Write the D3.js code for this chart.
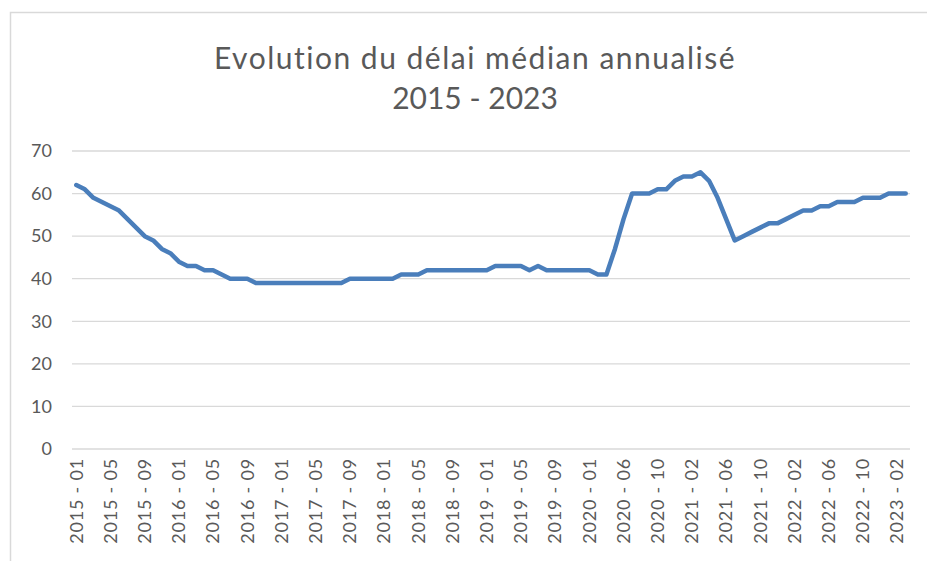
<!DOCTYPE html>
<html>
<head>
<meta charset="utf-8">
<script src="https://cdn.jsdelivr.net/npm/d3@7"></script>
<style>
  body { margin: 0; background: #fff; }
  svg { display: block; }
</style>
</head>
<body>
<div id="chart"></div>
<script>
// Categories (monthly, 2020-04 is missing in the source)
const months = [
  "2015 - 01","2015 - 02","2015 - 03","2015 - 04","2015 - 05","2015 - 06","2015 - 07","2015 - 08","2015 - 09","2015 - 10","2015 - 11","2015 - 12",
  "2016 - 01","2016 - 02","2016 - 03","2016 - 04","2016 - 05","2016 - 06","2016 - 07","2016 - 08","2016 - 09","2016 - 10","2016 - 11","2016 - 12",
  "2017 - 01","2017 - 02","2017 - 03","2017 - 04","2017 - 05","2017 - 06","2017 - 07","2017 - 08","2017 - 09","2017 - 10","2017 - 11","2017 - 12",
  "2018 - 01","2018 - 02","2018 - 03","2018 - 04","2018 - 05","2018 - 06","2018 - 07","2018 - 08","2018 - 09","2018 - 10","2018 - 11","2018 - 12",
  "2019 - 01","2019 - 02","2019 - 03","2019 - 04","2019 - 05","2019 - 06","2019 - 07","2019 - 08","2019 - 09","2019 - 10","2019 - 11","2019 - 12",
  "2020 - 01","2020 - 02","2020 - 03","2020 - 05","2020 - 06","2020 - 07","2020 - 08","2020 - 09","2020 - 10","2020 - 11","2020 - 12",
  "2021 - 01","2021 - 02","2021 - 03","2021 - 04","2021 - 05","2021 - 06","2021 - 07","2021 - 08","2021 - 09","2021 - 10","2021 - 11","2021 - 12",
  "2022 - 01","2022 - 02","2022 - 03","2022 - 04","2022 - 05","2022 - 06","2022 - 07","2022 - 08","2022 - 09","2022 - 10","2022 - 11","2022 - 12",
  "2023 - 01","2023 - 02","2023 - 03"
];

// Median delay (days)
const delays = [
  62, 61, 59, 58, 57, 56, 54, 52, 50, 49, 47, 46,
  44, 43, 43, 42, 42, 41, 40, 40, 40, 39, 39, 39,
  39, 39, 39, 39, 39, 39, 39, 39, 40, 40, 40, 40,
  40, 40, 41, 41, 41, 42, 42, 42, 42, 42, 42, 42,
  42, 43, 43, 43, 43, 42, 43, 42, 42, 42, 42, 42,
  42, 41, 41, 47, 54, 60, 60, 60, 61, 61, 63,
  64, 64, 65, 63, 59, 54, 49, 50, 51, 52, 53, 53,
  54, 55, 56, 56, 57, 57, 58, 58, 58, 59, 59, 59,
  60, 60, 60
];

const yTicks = [0, 10, 20, 30, 40, 50, 60, 70];
const titleLines = ["Evolution du délai médian annualisé", "2015 - 2023"];

const W = 927, H = 561;
const margin = { top: 151, right: 17, bottom: 112, left: 72 };
const width = W - margin.left - margin.right;
const height = H - margin.top - margin.bottom;
const font = "Lato, 'Open Sans', sans-serif";

const svg = d3.select("#chart")
  .append("svg")
  .attr("width", W)
  .attr("height", H);

// chart frame
svg.append("rect")
  .attr("x", 10.5)
  .attr("y", 12.5)
  .attr("width", 940)
  .attr("height", 600)
  .attr("fill", "none")
  .attr("stroke", "#d9d9d9")
  .attr("stroke-width", 1.5);

// title
svg.append("text")
  .attr("x", 475)
  .attr("y", 69)
  .attr("text-anchor", "middle")
  .style("font-family", font)
  .style("font-size", "30px")
  .attr("fill", "#595959")
  .selectAll("tspan")
  .data(titleLines)
  .join("tspan")
  .attr("x", 475)
  .attr("dy", (d, i) => i === 0 ? 0 : 40)
  .style("letter-spacing", (d, i) => i === 0 ? "1.5px" : "0px")
  .text(d => d);

const g = svg.append("g")
  .attr("transform", `translate(${margin.left},${margin.top})`);

const x = d3.scaleBand()
  .domain(months)
  .range([0, width]);

const y = d3.scaleLinear()
  .domain([0, 70])
  .range([height, 0]);

// gridlines
g.append("g")
  .selectAll("line")
  .data(yTicks)
  .join("line")
  .attr("x1", 0)
  .attr("x2", width)
  .attr("y1", d => y(d))
  .attr("y2", d => y(d))
  .attr("stroke", "#d9d9d9")
  .attr("stroke-width", 1.3);

// y axis labels
g.append("g")
  .call(d3.axisLeft(y).tickValues(yTicks).tickSize(0).tickPadding(20))
  .call(s => s.select(".domain").remove())
  .selectAll("text")
  .style("font-family", font)
  .style("font-size", "18px")
  .attr("fill", "#595959");

// x axis labels, every 4th category
g.append("g")
  .attr("transform", `translate(0,${height})`)
  .call(d3.axisBottom(x)
    .tickValues(months.filter((d, i) => i % 4 === 0))
    .tickSize(0))
  .call(s => s.select(".domain").remove())
  .selectAll("text")
  .style("font-family", font)
  .style("font-size", "18px")
  .style("letter-spacing", "0.8px")
  .attr("fill", "#595959")
  .attr("text-anchor", "end")
  .attr("transform", "rotate(-90)")
  .attr("x", -9)
  .attr("y", 0)
  .attr("dy", "0.35em");

// line
const line = d3.line()
  .x((d, i) => x(months[i]) + x.bandwidth() / 2)
  .y(d => y(d));

g.append("path")
  .datum(delays)
  .attr("fill", "none")
  .attr("stroke", "#4a7ebb")
  .attr("stroke-width", 4.5)
  .attr("stroke-linejoin", "round")
  .attr("stroke-linecap", "round")
  .attr("d", line);
</script>
</body>
</html>
